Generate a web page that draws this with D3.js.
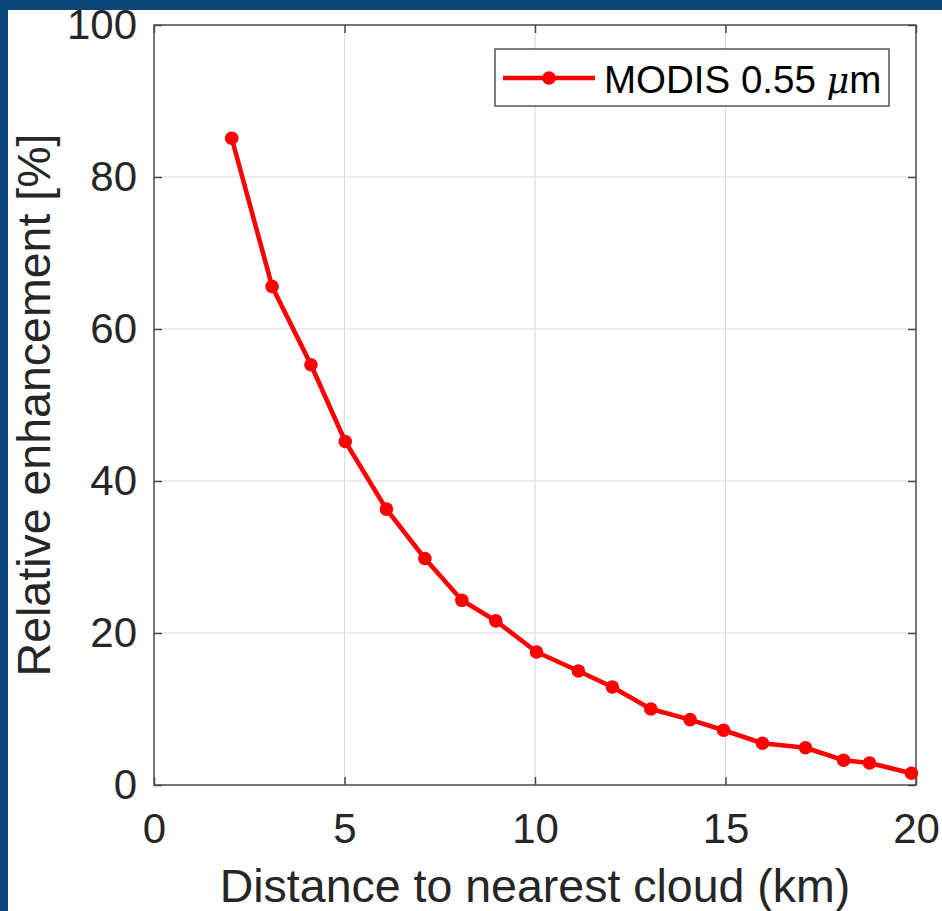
<!DOCTYPE html>
<html>
<head>
<meta charset="utf-8">
<script src="https://cdn.jsdelivr.net/npm/d3@7"></script>
<style>
  html, body { margin: 0; padding: 0; background: #0b4577; }
  svg { display: block; }
</style>
</head>
<body>
<div id="chart"></div>
<script>
// data
const distance_km = [2.04, 3.1, 4.12, 5.02, 6.1, 7.11, 8.08, 8.97, 10.04, 11.14,
  12.03, 13.04, 14.07, 14.95, 15.97, 17.1, 18.1, 18.78, 19.88];
const enhancement = [85.1, 65.6, 55.3, 45.2, 36.3, 29.8, 24.3, 21.6, 17.5, 15.0,
  12.9, 10.0, 8.6, 7.2, 5.5, 4.9, 3.25, 2.9, 1.55];
const x_ticks = [0, 5, 10, 15, 20];
const y_ticks = [0, 20, 40, 60, 80, 100];
const series_name = "MODIS 0.55 ";

let canvas = {
  size: { width: 942, height: 911 },
  margin: { top: 25, bottom: 126, left: 154, right: 26 }
};
const text_color = "#262626";
const font = "'Liberation Sans', Arial, sans-serif";

const svg = d3.select("#chart")
  .append("svg")
  .attr("width", canvas.size.width)
  .attr("height", canvas.size.height);

// slide background: blue frame on top and left
svg.append("rect").attr("width", canvas.size.width).attr("height", canvas.size.height).attr("fill", "#0b4577");
svg.append("rect").attr("x", 8).attr("y", 10)
  .attr("width", canvas.size.width - 8).attr("height", canvas.size.height - 10)
  .attr("fill", "white");

const w = canvas.size.width - canvas.margin.left - canvas.margin.right;
const h = canvas.size.height - canvas.margin.top - canvas.margin.bottom;

const x_axis = d3.scaleLinear().domain([0, 20]).range([0, w]);
const y_axis = d3.scaleLinear().domain([0, 100]).range([h, 0]);

const g = svg.append("g")
  .attr("transform", `translate(${canvas.margin.left},${canvas.margin.top})`);

// grid
g.append("g").selectAll("line")
  .data(x_ticks.slice(1, -1))
  .join("line")
    .attr("x1", d => x_axis(d)).attr("x2", d => x_axis(d))
    .attr("y1", 0).attr("y2", h)
    .attr("stroke", "#dcdcdc").attr("stroke-width", 1.2);
g.append("g").selectAll("line")
  .data(y_ticks.slice(1, -1))
  .join("line")
    .attr("y1", d => y_axis(d)).attr("y2", d => y_axis(d))
    .attr("x1", 0).attr("x2", w)
    .attr("stroke", "#dcdcdc").attr("stroke-width", 1.2);

// axes with inward ticks on all four sides
const styleAxis = sel => {
  sel.select(".domain").remove();
  sel.selectAll(".tick line").attr("stroke", "#4a4a4a").attr("stroke-width", 1.5);
  sel.selectAll(".tick text").attr("fill", text_color)
    .attr("font-family", font).attr("font-size", "42px");
};

g.append("g")
  .attr("transform", `translate(0,${h})`)
  .call(d3.axisBottom(x_axis).tickValues(x_ticks).tickSize(-8).tickPadding(28))
  .call(styleAxis);
g.append("g")
  .call(d3.axisTop(x_axis).tickValues(x_ticks).tickSize(-8).tickFormat(""))
  .call(styleAxis);
g.append("g")
  .call(d3.axisLeft(y_axis).tickValues(y_ticks).tickSize(-8).tickPadding(17))
  .call(styleAxis);
g.append("g")
  .attr("transform", `translate(${w},0)`)
  .call(d3.axisRight(y_axis).tickValues(y_ticks).tickSize(-8).tickFormat(""))
  .call(styleAxis);

// box
g.append("rect")
  .attr("width", w).attr("height", h)
  .attr("fill", "none").attr("stroke", "#4a4a4a").attr("stroke-width", 1.5);

// series
const pts = distance_km.map((d, i) => ({ x: d, y: enhancement[i] }));
const line = d3.line().x(d => x_axis(d.x)).y(d => y_axis(d.y));
g.append("path")
  .datum(pts)
  .attr("d", line)
  .attr("fill", "none")
  .attr("stroke", "#ff0000")
  .attr("stroke-width", 4.6)
  .attr("stroke-linejoin", "round");
g.append("g").selectAll("circle")
  .data(pts)
  .join("circle")
    .attr("cx", d => x_axis(d.x))
    .attr("cy", d => y_axis(d.y))
    .attr("r", 6.8)
    .attr("fill", "#ff0000");

// axis titles
svg.append("text")
  .attr("x", canvas.margin.left + w / 2)
  .attr("y", 902)
  .attr("text-anchor", "middle")
  .attr("font-family", font).attr("font-size", "46.5px")
  .attr("fill", text_color)
  .text("Distance to nearest cloud (km)");

svg.append("text")
  .attr("transform", `translate(50,${canvas.margin.top + h / 2}) rotate(-90)`)
  .attr("text-anchor", "middle")
  .attr("font-family", font).attr("font-size", "46.5px")
  .attr("fill", text_color)
  .text("Relative enhancement [%]");

// legend
const legend = svg.append("g");
legend.append("rect")
  .attr("x", 495).attr("y", 49).attr("width", 394).attr("height", 57)
  .attr("fill", "white").attr("stroke", "#3a3a3a").attr("stroke-width", 1.3);
legend.append("line")
  .attr("x1", 503).attr("x2", 595).attr("y1", 78).attr("y2", 78)
  .attr("stroke", "#ff0000").attr("stroke-width", 4.6);
legend.append("circle")
  .attr("cx", 549).attr("cy", 78).attr("r", 6.8).attr("fill", "#ff0000");
const lt = legend.append("text")
  .attr("x", 604).attr("y", 93)
  .attr("font-family", font).attr("font-size", "38.5px")
  .attr("fill", "black");
lt.append("tspan").text(series_name);
lt.append("tspan").attr("font-style", "italic").attr("font-family", "'DejaVu Serif', serif").attr("font-size", "35px").text("μ");
lt.append("tspan").text("m");
</script>
</body>
</html>
